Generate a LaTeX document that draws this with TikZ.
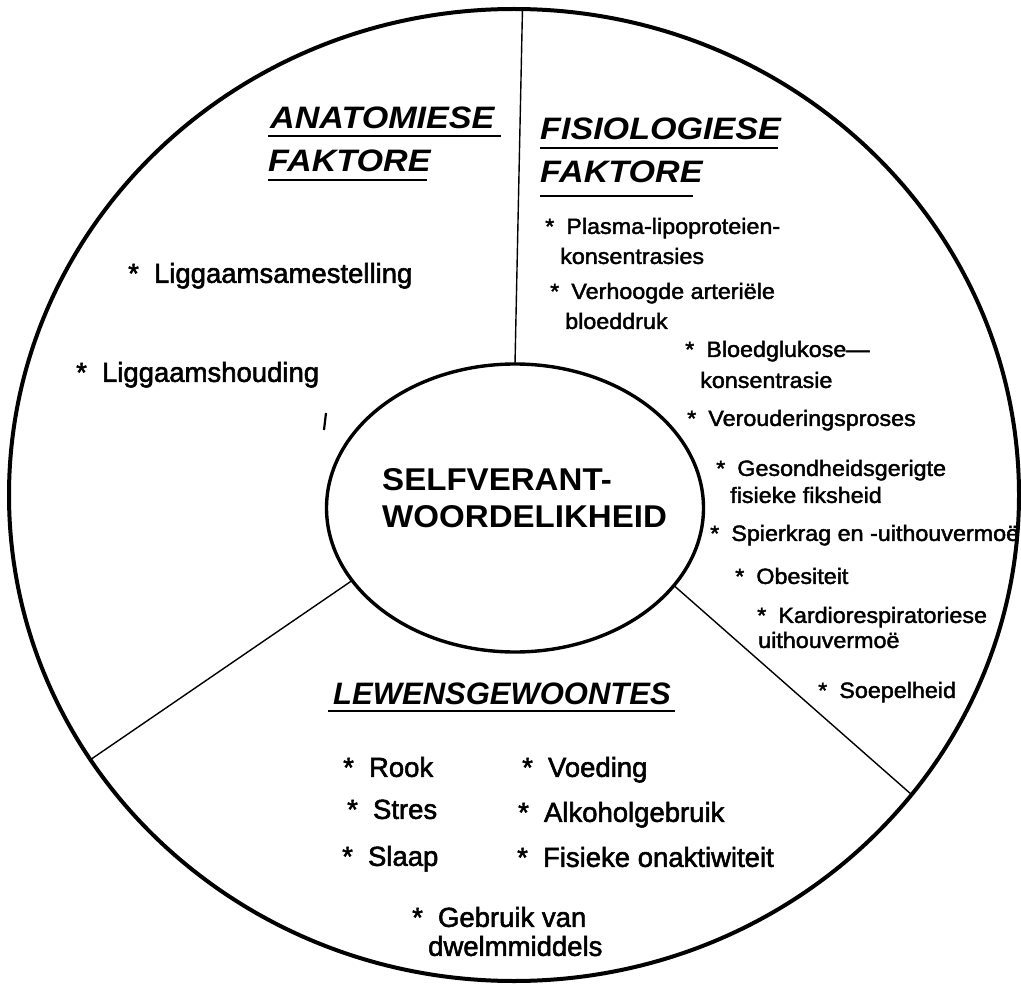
\documentclass[tikz,border=0pt]{standalone}
\usepackage{fontspec}
\setmainfont{Liberation Sans}
\newfontfamily\headfont{Liberation Sans}[FakeStretch=1.1]
\newfontfamily\headfontB{Liberation Sans}
\newfontfamily\itemfont{Liberation Sans}[FakeBold=2]
\newfontfamily\smallfont{Liberation Sans}[FakeBold=2,FakeStretch=1.06]
\newfontfamily\centrefont{Liberation Sans}[FakeStretch=1.05]
\usetikzlibrary{shapes.geometric}
\newcommand\bul{*\hspace{0.55em}}
\begin{document}
\begin{tikzpicture}[x=1pt,y=-1pt,
  frame/.style={draw, ellipse, line width=4pt, inner sep=0pt, outer sep=0pt},
  core/.style={draw, ellipse, line width=3.4pt, inner sep=0pt, outer sep=0pt},
  divider/.style={line width=1.4pt},
  rulebar/.style={line width=2pt},
  headtxt/.style={anchor=west, inner sep=0pt, text height=22pt, text depth=0pt,
    font=\headfont\bfseries\itshape\fontsize{31}{31}\selectfont},
  headtxtB/.style={headtxt, font=\headfontB\bfseries\itshape\fontsize{31}{31}\selectfont},
  lefttxt/.style={anchor=west, inner sep=0pt, text height=19.7pt, text depth=0pt,
    font=\itemfont\fontsize{27.5}{27.5}\selectfont},
  righttxt/.style={anchor=west, inner sep=0pt, text height=15.8pt, text depth=0pt,
    font=\smallfont\fontsize{22}{22}\selectfont},
  centretxt/.style={anchor=west, inner sep=0pt, text height=22.5pt, text depth=0pt,
    font=\centrefont\bfseries\fontsize{31.5}{31.5}\selectfont}]
\useasboundingbox (0,0) rectangle (1021,987);

% outer ring and central ellipse
\node[frame, minimum width=1010pt, minimum height=972pt] (outer) at (514,495) {};
\node[core, minimum width=377pt, minimum height=288pt] (self) at (515,508) {};
\node[centretxt] (selfA) at (382,479) {SELFVERANT-};
\node[centretxt] (selfB) at (382,516) {WOORDELIKHEID};

% sector dividers
\draw[divider] (self.90) -- (outer.89);
\draw[divider] (self.204) -- (outer.212);
\draw[divider] (self.334) -- (outer.323);

% headings
\node[headtxt] (anat) at (270,117.5) {ANATOMIESE};
\node[headtxt] (anatb) at (268,161) {FAKTORE};
\node[headtxt] (fis) at (540,129) {FISIOLOGIESE};
\node[headtxt] (fisb) at (540,172) {FAKTORE};
\node[headtxtB] (lew) at (333,693.5) {LEWENSGEWOONTES};
\draw[rulebar] (268,136) -- (501,136);
\draw[rulebar] (268,180) -- (427,180);
\draw[rulebar] (540,148) -- (778,148);
\draw[rulebar] (540,196) -- (693,196);
\draw[rulebar] (328,711) -- (675,711);

% anatomical factors
\node[lefttxt] (a1) at (128,273) {\bul Liggaamsamestelling};
\node[lefttxt] (a2) at (76,372) {\bul Liggaamshouding};
\draw[line width=2.2pt] (326,413) -- (324,430);

% physiological factors
\node[righttxt] (f1) at (545,226) {\bul Plasma-lipoproteien-};
\node[righttxt] (f1b) at (560,256) {konsentrasies};
\node[righttxt] (f2) at (550,291) {\bul Verhoogde arteriële};
\node[righttxt] (f2b) at (565,321) {bloeddruk};
\node[righttxt] (f3) at (685,349) {\bul Bloedglukose—};
\node[righttxt] (f3b) at (700,380) {konsentrasie};
\node[righttxt] (f4) at (687,418) {\bul Verouderingsproses};
\node[righttxt] (f5) at (716,468) {\bul Gesondheidsgerigte};
\node[righttxt] (f5b) at (730,495) {fisieke fiksheid};
\node[righttxt] (f6) at (710,533) {\bul Spierkrag en -uithouvermoë};
\node[righttxt] (f7) at (735,576) {\bul Obesiteit};
\node[righttxt] (f8) at (757,615) {\bul Kardiorespiratoriese};
\node[righttxt] (f8b) at (758,640) {uithouvermoë};
\node[righttxt] (f9) at (818,690) {\bul Soepelheid};

% lifestyle habits
\node[lefttxt] (l1) at (343,767) {\bul Rook};
\node[lefttxt] (l2) at (522,767) {\bul Voeding};
\node[lefttxt] (l3) at (347,809) {\bul Stres};
\node[lefttxt] (l4) at (518,812) {\bul Alkoholgebruik};
\node[lefttxt] (l5) at (342,856) {\bul Slaap};
\node[lefttxt] (l6) at (517,857) {\bul Fisieke onaktiwiteit};
\node[lefttxt] (l7) at (412,917) {\bul Gebruik van};
\node[lefttxt] (l7b) at (428,946) {dwelmmiddels};
\end{tikzpicture}
\end{document}
